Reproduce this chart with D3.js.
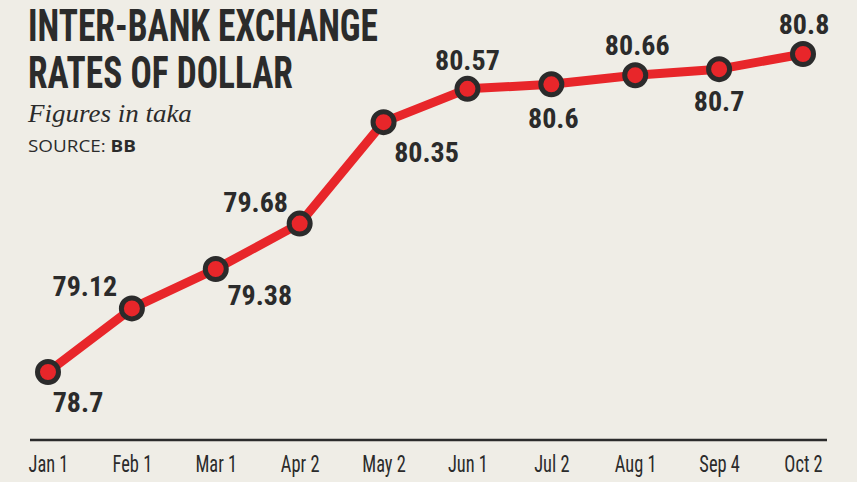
<!DOCTYPE html>
<head>
  <meta charset="utf-8">
  <script src="https://cdn.jsdelivr.net/npm/d3@7/dist/d3.min.js"></script>
  <style>
    body { margin:0; background:#efede6; }
    .narrow { font-family:"Liberation Sans Narrow","Roboto Condensed","DejaVu Sans Condensed",sans-serif; }
  </style>
</head>
<body>
<script>
var dates = ["Jan 1","Feb 1","Mar 1","Apr 2","May 2","Jun 1","Jul 2","Aug 1","Sep 4","Oct 2"];
var rates = [78.7, 79.12, 79.38, 79.68, 80.35, 80.57, 80.6, 80.66, 80.7, 80.8];
var labels = ["78.7","79.12","79.38","79.68","80.35","80.57","80.6","80.66","80.7","80.8"];

// where each value label sits relative to its point
var labelOffsets = [[30,40],[-47,-12],[44,36],[-44,-12],[43,40],[0,-19],[2,44],[2,-20],[0,42],[1,-20]];

var width = 857, height = 482;
var ink = "#2b2b2b", red = "#e8262a";

var svg = d3.select("body").append("svg")
  .attr("width", width)
  .attr("height", height)
  .style("background", "#efede6");

var x = d3.scalePoint().domain(dates).range([48, 803]);
var y = d3.scaleLinear().domain([78.7, 80.8]).range([372, 54]);

// squeeze a text horizontally to a given width
function fitWidth(sel, px, py, w) {
  var n = sel.node().getComputedTextLength();
  sel.attr("transform", "translate(" + px + "," + py + ") scale(" + (w / n) + ",1)");
}

// title block
var title = svg.append("g").attr("class", "narrow").attr("fill", ink).attr("font-weight", "bold").attr("font-size", 44);
fitWidth(title.append("text").text("INTER-BANK EXCHANGE"), 28, 41, 350);
fitWidth(title.append("text").text("RATES OF DOLLAR"), 28, 88, 265);

var sub = svg.append("text")
  .attr("font-family", "'Liberation Serif','DejaVu Serif',serif")
  .attr("font-style", "italic")
  .attr("font-size", 25)
  .attr("fill", ink)
  .text("Figures in taka");
fitWidth(sub, 28, 122, 164);

var src = svg.append("text")
  .attr("font-family", "'Open Sans',sans-serif")
  .attr("font-size", 16)
  .attr("fill", ink);
src.append("tspan").text("SOURCE: ");
src.append("tspan").attr("font-weight", "bold").text("BB");
fitWidth(src, 28, 152, 108);

// x axis
var xAxis = svg.append("g")
  .attr("transform", "translate(0,440)")
  .call(d3.axisBottom(x).tickSize(0).tickPadding(20));
xAxis.select(".domain").remove();
xAxis.append("line")
  .attr("x1", 30).attr("x2", 827)
  .attr("stroke", ink).attr("stroke-width", 2.5);
xAxis.selectAll(".tick text")
  .attr("class", "narrow")
  .attr("font-size", 23)
  .attr("fill", ink)
  .attr("dy", "0.71em")
  .attr("y", 16)
  .each(function() {
    var w = this.getComputedTextLength();
    d3.select(this).attr("textLength", w * 0.8).attr("lengthAdjust", "spacingAndGlyphs");
  });

// line
var line = d3.line()
  .x(function(d, i) { return x(dates[i]); })
  .y(function(d) { return y(d); });

svg.append("path")
  .datum(rates)
  .attr("d", line)
  .attr("fill", "none")
  .attr("stroke", red)
  .attr("stroke-width", 9)
  .attr("stroke-linejoin", "round");

svg.selectAll("circle.pt")
  .data(rates).enter().append("circle")
  .attr("class", "pt")
  .attr("cx", function(d, i) { return x(dates[i]); })
  .attr("cy", function(d) { return y(d); })
  .attr("r", 10.5)
  .attr("fill", red)
  .attr("stroke", ink)
  .attr("stroke-width", 5);

svg.selectAll("text.val")
  .data(rates).enter().append("text")
  .attr("class", "val narrow")
  .attr("x", function(d, i) { return x(dates[i]) + labelOffsets[i][0]; })
  .attr("y", function(d, i) { return y(d) + labelOffsets[i][1]; })
  .attr("text-anchor", "middle")
  .attr("font-size", 28)
  .attr("font-weight", "bold")
  .attr("fill", ink)
  .text(function(d, i) { return labels[i]; });
</script>
</body>
